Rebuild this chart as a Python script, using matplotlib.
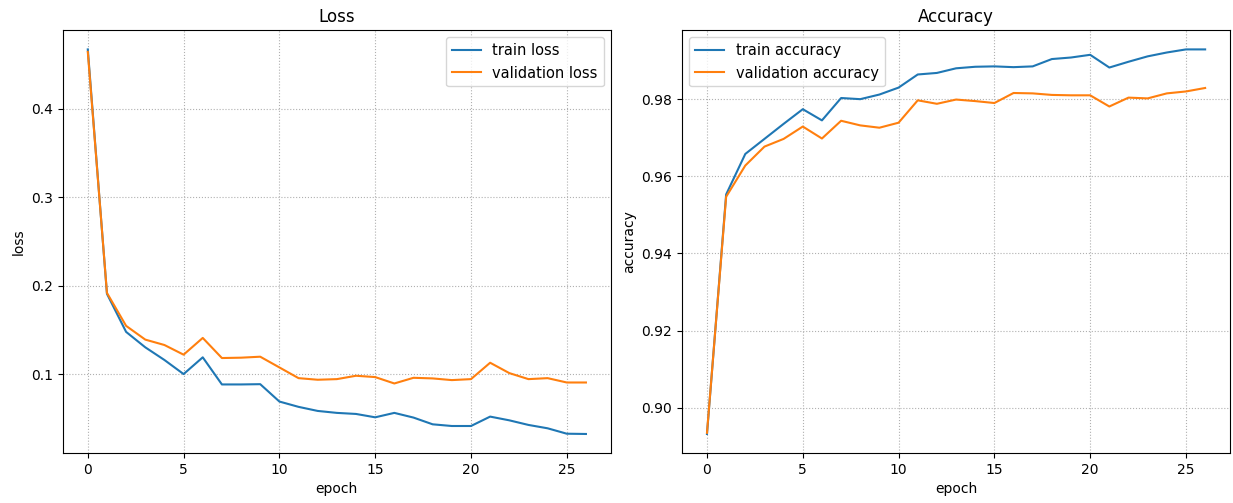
import matplotlib
matplotlib.use("Agg")
import matplotlib.pyplot as plt

epochs = list(range(27))
train_loss = [0.4668, 0.191, 0.148, 0.1306, 0.1163, 0.1004, 0.1193, 0.0887, 0.0887, 0.089,
              0.0694, 0.0634, 0.0588, 0.0566, 0.0554, 0.0516, 0.0566, 0.0513, 0.0437, 0.0418,
              0.0418, 0.0524, 0.0482, 0.0430, 0.0392, 0.0331, 0.0328]
val_loss = [0.464, 0.192, 0.1548, 0.1393, 0.1332, 0.1223, 0.1412, 0.1185, 0.1189, 0.120,
            0.1079, 0.0958, 0.094, 0.0947, 0.0985, 0.097, 0.0898, 0.0962, 0.0955, 0.0936,
            0.0947, 0.1132, 0.1015, 0.0947, 0.0958, 0.0909, 0.0909]
train_acc = [0.8932, 0.9553, 0.9658, 0.9697, 0.9736, 0.9774, 0.9745, 0.9803, 0.980, 0.9812,
             0.983, 0.9864, 0.9868, 0.988, 0.9884, 0.9885, 0.9883, 0.9885, 0.9904, 0.9908,
             0.9915, 0.9882, 0.9897, 0.9911, 0.9921, 0.9929, 0.9929]
val_acc = [0.8935, 0.9547, 0.9628, 0.9677, 0.9697, 0.9729, 0.9698, 0.9744, 0.9732, 0.9726,
           0.9739, 0.9797, 0.9788, 0.9799, 0.9795, 0.979, 0.9816, 0.9815, 0.9811, 0.981,
           0.981, 0.9781, 0.9804, 0.9802, 0.9815, 0.982, 0.9829]

fig, (ax1, ax2) = plt.subplots(1, 2, figsize=(12.33, 5.03), dpi=100)
fig.subplots_adjust(left=0.051, right=0.9976, top=0.94, bottom=0.099, wspace=0.13)

ax1.plot(epochs, train_loss, label="train loss")
ax1.plot(epochs, val_loss, label="validation loss")
ax1.set_title("Loss")
ax1.set_xlabel("epoch")
ax1.set_ylabel("loss")
ax1.grid(True, linestyle=":")
ax1.legend(loc="upper right", fontsize=10.5)

ax2.plot(epochs, train_acc, label="train accuracy")
ax2.plot(epochs, val_acc, label="validation accuracy")
ax2.set_title("Accuracy")
ax2.set_xlabel("epoch")
ax2.set_ylabel("accuracy")
ax2.grid(True, linestyle=":")
ax2.legend(loc="upper left", fontsize=10.5)

fig.savefig("out.png")
